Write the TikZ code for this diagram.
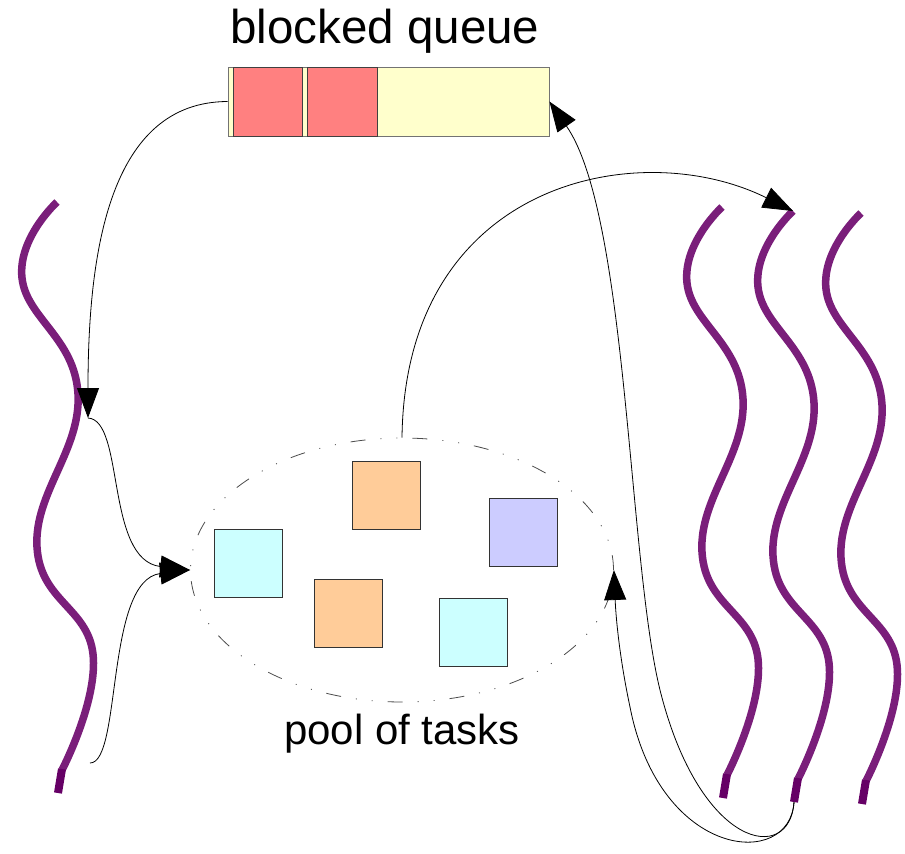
\documentclass[tikz,border=0pt]{standalone}
\usepackage{fontspec}
\setmainfont{Liberation Sans}
\usetikzlibrary{shapes.geometric,arrows.meta}

\definecolor{qyellow}{HTML}{FFFFCC}
\definecolor{qred}{HTML}{FF8080}
\definecolor{tcyan}{HTML}{CCFFFF}
\definecolor{torange}{HTML}{FFCC99}
\definecolor{tblue}{HTML}{CCCCFF}
\definecolor{threadcol}{RGB}{122,30,122}
\definecolor{tailcol}{HTML}{660066}

\tikzset{
  thread/.style={line width=7.5pt, threadcol},
  threadtail/.style={line width=8pt, tailcol},
  task/.style={draw=black!80, line width=0.9pt, minimum size=68pt, inner sep=0pt},
  slot/.style={draw=black!75, fill=qred, line width=0.9pt, minimum height=69pt, inner sep=0pt},
  flow/.style={line width=0.8pt, -{Triangle[length=30pt,width=22pt]}},
  label/.style={inner sep=0pt}
}

% one wavy thread, top at #1
\newcommand{\drawthread}[2]{%
  \begin{scope}[shift={(#1)}]
    \draw[thread] plot[smooth, tension=0.75] coordinates
      {(0,0) (-35,76) (21,192) (-20,345) (36,452) (5,568)};
    \draw[threadtail] (5,567) -- (1,591);
    \coordinate (#2top) at (0,0);
    \coordinate (#2end) at (1,591);
  \end{scope}}

\begin{document}
\begin{tikzpicture}[x=1pt, y=-1pt]
  \useasboundingbox (0,0) rectangle (905,854);

  % Blocked queue
  \node[label, anchor=base, font=\fontsize{47.5}{54}\selectfont] (qlabel) at (385,43) {blocked queue};
  \node[draw=black!55, fill=qyellow, line width=0.9pt, minimum width=321pt,
        minimum height=69pt, inner sep=0pt] (queue) at (388.5,101.5) {};
  \node[slot, minimum width=69pt] (slot1) at (267.5,101.5) {};
  \node[slot, minimum width=70pt] (slot2) at (342.5,101.5) {};

  % Pool of tasks
  \node[ellipse, draw=black!70, line width=0.8pt,
        dash pattern=on 15pt off 15pt on 1pt off 15pt on 1pt off 15pt,
        minimum width=423pt, minimum height=264pt, inner sep=0pt] (pool) at (402,570) {};
  \node[task, fill=tcyan] (task1) at (248.5,563.5) {};
  \node[task, fill=torange] (task2) at (386.5,495) {};
  \node[task, fill=torange] (task3) at (348.5,613.5) {};
  \node[task, fill=tblue] (task4) at (523.5,532.5) {};
  \node[task, fill=tcyan] (task5) at (473.5,632.5) {};
  \node[label, anchor=base, font=\fontsize{42}{48}\selectfont] (plabel) at (402,744) {pool of tasks};

  % Threads
  \drawthread{57,202}{tL}
  \drawthread{722,207}{tA}
  \drawthread{793,211}{tB}
  \drawthread{861,213}{tC}

  \coordinate (grab) at (88,418);
  \coordinate (back) at (90,763);

  % Left thread takes a blocked task and gives it back
  \draw[flow] (queue.west) .. controls (110,102) and (88,250) .. (grab);
  \draw[flow] (grab) .. controls (125,420) and (105,560) .. (pool.west);
  \draw[flow] (back) .. controls (122,763) and (105,580) .. (pool.west);

  % Right threads
  \draw[flow] (pool.north) .. controls (405,180) and (640,135) .. (tBtop);
  \draw[flow] (tBend) .. controls (790,865) and (700,850) .. (660,690)
                      .. controls (628,560) and (628,215) .. (queue.east);
  \draw[flow] (tBend) .. controls (790,870) and (660,860) .. (630,707)
                      .. controls (620,660) and (616,620) .. (pool.east);
\end{tikzpicture}
\end{document}
